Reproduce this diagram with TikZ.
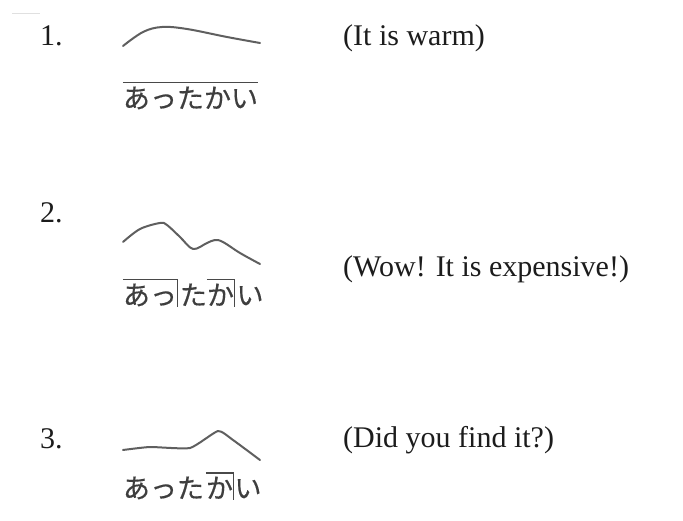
\documentclass[tikz,border=0pt]{standalone}
\usepackage{fontspec}
\setmainfont{Liberation Serif}
\newfontfamily\jpfont[FakeBold=0.4]{Noto Sans CJK JP}
\usepackage{xcolor}
\usepackage{tikz}
\usetikzlibrary{positioning, calc}

\definecolor{inkgray}{RGB}{28,28,28}
\definecolor{curvegray}{RGB}{95,95,95}

\begin{document}
\begin{tikzpicture}[
        x=1pt, y=-1pt,
        romtext/.style={anchor=base west, inner sep=0pt, text=inkgray, font=\fontsize{30}{34}\selectfont},
        mora/.style={anchor=base, inner sep=0pt, minimum width=27pt, text height=25pt, text depth=2pt, text=inkgray!85, font=\jpfont\fontsize{27}{30}\selectfont},
        pitch/.style={curvegray, line width=2pt, line cap=round, line join=round},
        accent/.style={inkgray!80, line width=1.4pt}
    ]
    \useasboundingbox (0,0) rectangle (683,521);
    \draw[black!12, line width=1pt] (12,14) -- (40,14);

    % 1.
    \node (num1) [romtext] at (40,46) {1.};
    \node (gloss1) [romtext] at (343,46) {(It is warm)};
    \draw[pitch] plot[smooth, tension=0.6] coordinates {(123,46) (143,32) (162,27) (187,29) (227,37) (260,43)};
    \node (a1) [mora] at (136.5,108) {あ};
    \node (tsu1) [mora] at (163.5,108) {っ};
    \node (ta1) [mora] at (190.5,108) {た};
    \node (ka1) [mora] at (217.5,108) {か};
    \node (i1) [mora] at (244.5,108) {い};
    \draw[accent] (a1.north west) -- (i1.north east);

    % 2.
    \node (num2) [romtext] at (40,223) {2.};
    \node (gloss2) [romtext] at (343,277) {(Wow! It is expensive!)};
    \draw[pitch] plot[smooth, tension=0.55] coordinates {(123,242) (140,229) (160,223) (167,225) (180,237) (193,249) (207,243) (215,240) (223,242) (240,253) (260,264)};
    \node (a2) [mora] at (136.5,305) {あ};
    \node (tsu2) [mora] at (163.5,305) {っ};
    \node (ta2) [mora] at (193.5,305) {た};
    \node (ka2) [mora] at (220.5,305) {か};
    \node (i2) [mora] at (250,305) {い};
    \draw[accent] (a2.north west) -- (tsu2.north east) -- (tsu2.south east);
    \draw[accent] (ka2.north west) -- (ka2.north east) -- (ka2.south east);

    % 3.
    \node (num3) [romtext] at (40,448) {3.};
    \node (gloss3) [romtext] at (343,447) {(Did you find it?)};
    \draw[pitch] plot[smooth, tension=0.3] coordinates {(123,450) (150,447) (190,448) (218,431) (233,440) (260,460)};
    \node (a3) [mora] at (136.5,498) {あ};
    \node (tsu3) [mora] at (163.5,498) {っ};
    \node (ta3) [mora] at (190.5,498) {た};
    \node (ka3) [mora] at (219.5,498) {か};
    \node (i3) [mora] at (248,498) {い};
    \draw[accent] (ka3.north west) -- (ka3.north east) -- (ka3.south east);

\end{tikzpicture}
\end{document}
